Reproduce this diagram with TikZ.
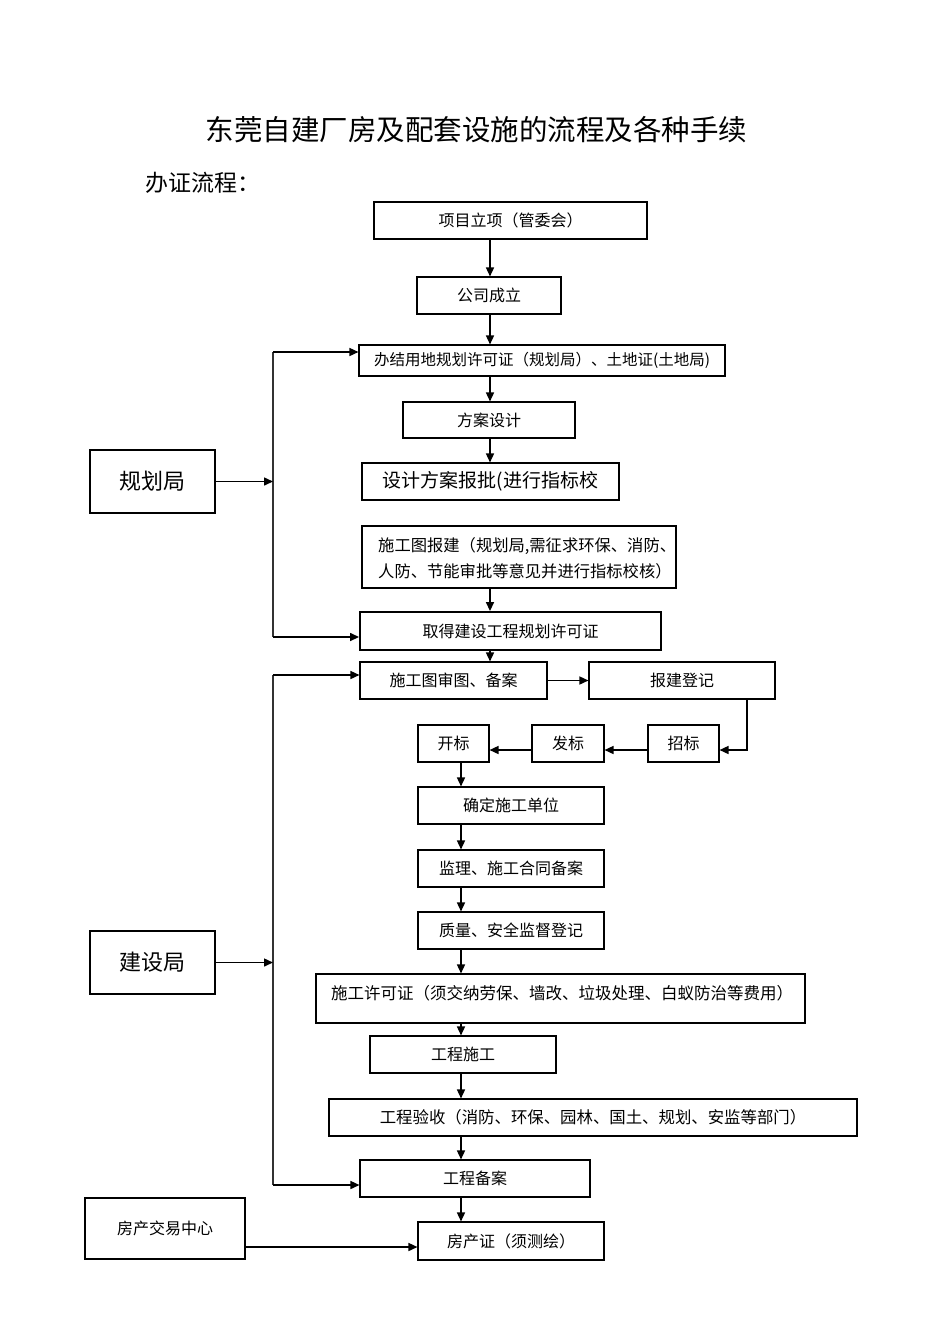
\documentclass[tikz,border=0pt]{standalone}
\usepackage{fontspec}
\newfontfamily\cjk{Noto Sans CJK SC}
\usetikzlibrary{arrows.meta}
\tikzset{
  box/.style={draw=black, line width=1.1pt, inner sep=0pt, font=\cjk\fontsize{16}{19}\selectfont},
  thickbox/.style={box, line width=1.9pt},
  txt/.style={inner sep=0pt, font=\cjk\fontsize{16}{19}\selectfont},
  arr/.style={line width=1.5pt, -{Triangle[length=9pt,width=8pt]}},
  bus/.style={line width=1.5pt, draw=black!80},
}
\begin{document}
\begin{tikzpicture}[x=1pt,y=-1pt]
\useasboundingbox (0,0) rectangle (950,1344);
% title
\node[inner sep=0pt, font=\cjk\fontsize{28.5}{32}\selectfont] (title) at (476.5,130) {东莞自建厂房及配套设施的流程及各种手续};
\node[inner sep=0pt, anchor=west, font=\cjk\fontsize{23}{26}\selectfont] (sub) at (145,183) {办证流程：};
% main column
\node[thickbox, minimum width=273pt, minimum height=37pt] (b1) at (510.5,220.5) {项目立项（管委会）};
\node[box, minimum width=144pt, minimum height=37pt] (b2) at (489,295.5) {公司成立};
\node[box, minimum width=366pt, minimum height=31pt, font=\cjk\fontsize{15.5}{18}\selectfont] (b3) at (542,360.5) {办结用地规划许可证（规划局）、土地证(土地局)};
\node[box, minimum width=172pt, minimum height=36pt] (b4) at (489,420) {方案设计};
\node[box, minimum width=257pt, minimum height=37pt, font=\cjk\fontsize{19}{22}\selectfont] (b5) at (490.5,481.5) {设计方案报批(进行指标校};
\node[box, minimum width=314pt, minimum height=62pt] (b6) at (519,557) {};
\node[txt, anchor=west, align=left, font=\cjk\fontsize{16.3}{26}\selectfont] (t6) at (378,558) {施工图报建（规划局,需征求环保、消防、\\人防、节能审批等意见并进行指标校核）};
\node[thickbox, minimum width=301pt, minimum height=38pt] (b7) at (510.5,631) {取得建设工程规划许可证};
\node[box, minimum width=187pt, minimum height=37pt] (b8) at (453.5,680.5) {施工图审图、备案};
\node[box, minimum width=186pt, minimum height=37pt] (b9) at (682,680.5) {报建登记};
\node[box, minimum width=71pt, minimum height=37pt] (b10) at (683.5,743.5) {招标};
\node[box, minimum width=72pt, minimum height=37pt] (b11) at (568,743.5) {发标};
\node[box, minimum width=71pt, minimum height=37pt] (b12) at (453.5,743.5) {开标};
\node[box, minimum width=186pt, minimum height=37pt] (b13) at (511,805.5) {确定施工单位};
\node[box, minimum width=186pt, minimum height=37pt] (b14) at (511,868.5) {监理、施工合同备案};
\node[box, minimum width=186pt, minimum height=37pt] (b15) at (511,930.5) {质量、安全监督登记};
\node[box, minimum width=489pt, minimum height=49pt] (b16) at (560.5,998.5) {};
\node[txt, font=\cjk\fontsize{16.5}{19}\selectfont] (t16) at (562,993) {施工许可证（须交纳劳保、墙改、垃圾处理、白蚁防治等费用）};
\node[box, minimum width=186pt, minimum height=37pt] (b17) at (463,1054.5) {工程施工};
\node[box, minimum width=528pt, minimum height=37pt, font=\cjk\fontsize{16.4}{19}\selectfont] (b18) at (593,1117.5) {工程验收（消防、环保、园林、国土、规划、安监等部门）};
\node[box, minimum width=230pt, minimum height=37pt] (b19) at (475,1178.5) {工程备案};
\node[box, minimum width=186pt, minimum height=38pt] (b20) at (511,1241) {房产证（须测绘）};
% side boxes
\node[box, minimum width=125pt, minimum height=63pt, font=\cjk\fontsize{22}{25}\selectfont] (gh) at (152.5,481.5) {规划局};
\node[box, minimum width=125pt, minimum height=63pt, font=\cjk\fontsize{22}{25}\selectfont] (js) at (152.5,962.5) {建设局};
\node[box, minimum width=160pt, minimum height=61pt] (fc) at (165,1228.5) {房产交易中心};
% helper coordinates
\coordinate (ma) at (490,0);
\coordinate (mb) at (461,0);
\coordinate (g1) at (273,352);
\coordinate (g2) at (273,637);
\coordinate (g3) at (273,675);
\coordinate (g4) at (273,1185);
\coordinate (rb) at (747,750);
\coordinate (fy) at (0,1247);
% main arrows
\draw[arr] (b1.south -| ma) -- (b2.north -| ma);
\draw[arr] (b2.south -| ma) -- (b3.north -| ma);
\draw[arr] (b3.south -| ma) -- (b4.north -| ma);
\draw[arr] (b4.south -| ma) -- (b5.north -| ma);
\draw[arr] (b6.south -| ma) -- (b7.north -| ma);
\draw[arr] (b7.south -| ma) -- (b8.north -| ma);
\draw[arr] (b8.east) -- (b9.west);
\draw[arr] (b9.south -| rb) -- (rb) -- (rb -| b10.east);
\draw[arr] (rb -| b10.west) -- (rb -| b11.east);
\draw[arr] (rb -| b11.west) -- (rb -| b12.east);
\draw[arr] (b12.south -| mb) -- (b13.north -| mb);
\draw[arr] (b13.south -| mb) -- (b14.north -| mb);
\draw[arr] (b14.south -| mb) -- (b15.north -| mb);
\draw[arr] (b15.south -| mb) -- (b16.north -| mb);
\draw[arr] (b16.south -| mb) -- (b17.north -| mb);
\draw[arr] (b17.south -| mb) -- (b18.north -| mb);
\draw[arr] (b18.south -| mb) -- (b19.north -| mb);
\draw[arr] (b19.south -| mb) -- (b20.north -| mb);
% left buses
\draw[bus] (g1) -- (g2);
\draw[bus] (g3) -- (g4);
\draw[arr] (g1) -- (g1 -| b3.west);
\draw[arr] (g2) -- (g2 -| b7.west);
\draw[arr] (g3) -- (g3 -| b8.west);
\draw[arr] (g4) -- (g4 -| b19.west);
\draw[arr] (gh.east) -- (gh.east -| g1);
\draw[arr] (js.east) -- (js.east -| g3);
\draw[arr] (fc.east |- fy) -- (b20.west |- fy);
\end{tikzpicture}
\end{document}
